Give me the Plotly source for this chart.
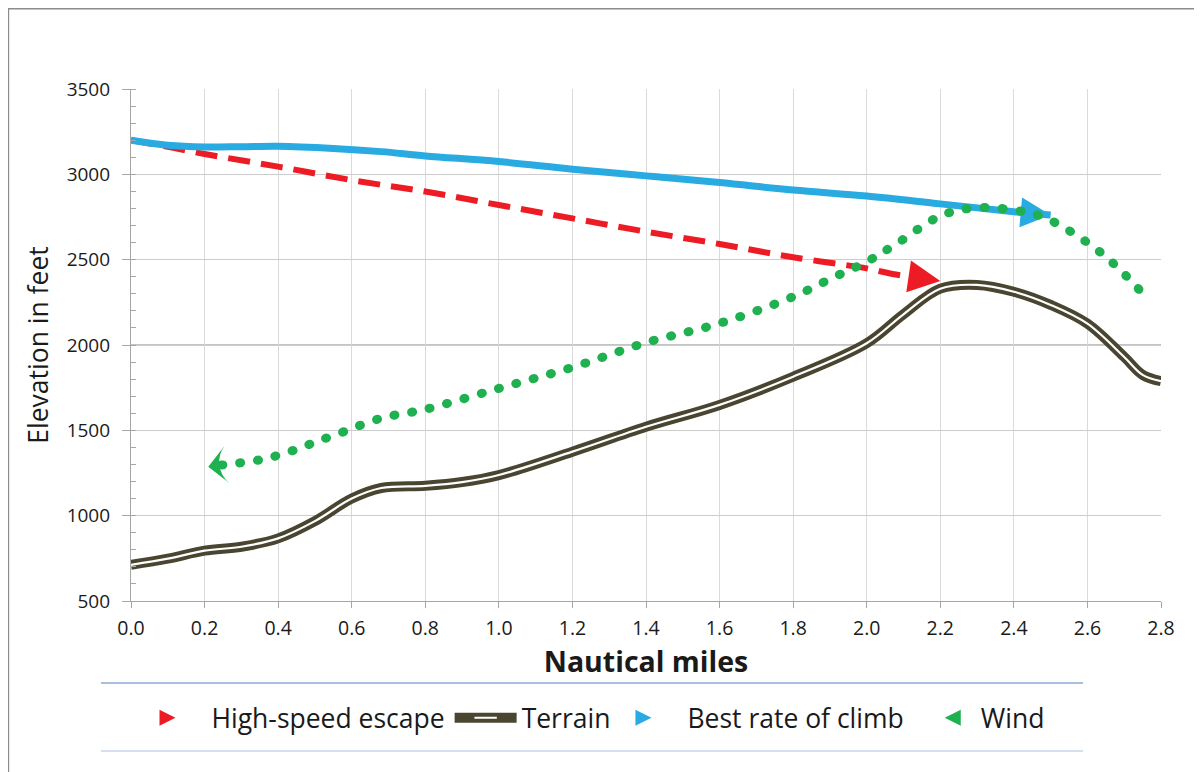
import plotly.graph_objects as go

# ---------------- data ----------------
escape_x = [0.0, 0.1, 0.2, 0.4, 0.6, 0.8, 1.0, 1.2, 1.4, 1.6, 1.8, 2.0, 2.07, 2.2]
escape_y = [3200, 3162, 3119, 3045, 2966, 2899, 2820, 2742, 2664, 2592, 2514, 2449, 2416, 2375]

climb_x = [0.0, 0.1, 0.2, 0.3, 0.4, 0.55, 0.68, 0.8, 1.0, 1.2, 1.4, 1.6, 1.8, 2.0, 2.2, 2.4, 2.5]
climb_y = [3200, 3170, 3160, 3162, 3165, 3152, 3133, 3108, 3075, 3030, 2991, 2952, 2908, 2873, 2827, 2781, 2762]

terrain_x = [0.0, 0.1, 0.2, 0.3, 0.4, 0.5, 0.6, 0.68, 0.8, 0.9, 1.0, 1.2, 1.4, 1.6, 1.8, 2.0, 2.1,
             2.2, 2.3, 2.4, 2.5, 2.6, 2.7, 2.75, 2.8]
terrain_y = [712, 748, 795, 818, 867, 968, 1100, 1162, 1175, 1197, 1238, 1375, 1521, 1649, 1814, 2010, 2180,
             2330, 2352, 2312, 2235, 2125, 1930, 1825, 1788]

wind_x = [0.21, 0.27, 0.32, 0.37, 0.41, 0.46, 0.5, 0.55, 0.68, 0.8, 1.0, 1.2, 1.4, 1.6, 1.8, 1.91,
          2.0, 2.08, 2.2, 2.29, 2.4, 2.48, 2.6, 2.675, 2.74]
wind_y = [1287, 1303, 1316, 1336, 1361, 1396, 1431, 1469, 1571, 1623, 1746, 1869, 2014, 2127, 2283, 2397,
          2488, 2592, 2756, 2803, 2791, 2750, 2600, 2469, 2326]

x_ticks = [0.0, 0.2, 0.4, 0.6, 0.8, 1.0, 1.2, 1.4, 1.6, 1.8, 2.0, 2.2, 2.4, 2.6, 2.8]
y_ticks = [500, 1000, 1500, 2000, 2500, 3000, 3500]

series_names = ["High-speed escape", "Terrain", "Best rate of climb", "Wind"]

# ---------------- style ----------------
RED = "#ed1c24"
BLUE = "#29abe2"
GREEN = "#1fb04f"
TERRAIN = "#4a4530"
FONT = "Open Sans"


def arrow_sizes(n, size):
    return [0] * (n - 1) + [size]


def backoffs(n, b):
    return [0] * (n - 1) + [b]


fig = go.Figure()

# Terrain: dark thick line with a thin white core -> double line
fig.add_trace(go.Scatter(
    x=terrain_x, y=terrain_y, mode="lines", showlegend=False, hoverinfo="skip",
    line=dict(color=TERRAIN, width=10, shape="spline", smoothing=1.0)))
fig.add_trace(go.Scatter(
    x=terrain_x, y=terrain_y, mode="lines", showlegend=False, name=series_names[1],
    line=dict(color="white", width=2.2, shape="spline", smoothing=1.0)))

# High-speed escape (dashed red with arrow head)
n = len(escape_x)
fig.add_trace(go.Scatter(
    x=escape_x, y=escape_y, mode="lines+markers", showlegend=False, name=series_names[0],
    line=dict(color=RED, width=6, dash="22px,11px", shape="spline", backoff=backoffs(n, 14)),
    marker=dict(symbol="arrow-up", size=arrow_sizes(n, 32), color=RED, angleref="previous",
                opacity=1, line=dict(width=0))))

# Best rate of climb (solid blue with arrow head)
n = len(climb_x)
fig.add_trace(go.Scatter(
    x=climb_x, y=climb_y, mode="lines+markers", showlegend=False, name=series_names[2],
    line=dict(color=BLUE, width=7, shape="spline", backoff=backoffs(n, 14)),
    marker=dict(symbol="arrow-up", size=arrow_sizes(n, 30), color=BLUE, angleref="previous",
                opacity=1, line=dict(width=0))))

# Wind (green round-dotted, arrow head at the left end) - drawn from right to left
wx = wind_x[::-1]
wy = wind_y[::-1]
n = len(wx)
fig.add_trace(go.Scatter(
    x=wx, y=wy, mode="lines+markers", showlegend=False, name=series_names[3],
    line=dict(color=GREEN, width=9, dash="1px,17px", shape="spline", backoff=backoffs(n, 10)),
    marker=dict(symbol="arrow-wide", size=arrow_sizes(n, 27), color=GREEN, angleref="previous",
                opacity=1, line=dict(width=0))))

# ---------------- legend-only entries ----------------
fig.add_trace(go.Scatter(x=[None], y=[None], mode="markers", name=series_names[0],
                         marker=dict(symbol="arrow-right", size=16, color=RED)))
fig.add_trace(go.Scatter(x=[None], y=[None], mode="lines+markers", name=series_names[1],
                         line=dict(color=TERRAIN, width=10),
                         marker=dict(symbol="line-ew", size=16, color="white",
                                     line=dict(color="white", width=2))))
fig.add_trace(go.Scatter(x=[None], y=[None], mode="markers", name=series_names[2],
                         marker=dict(symbol="arrow-right", size=16, color=BLUE)))
fig.add_trace(go.Scatter(x=[None], y=[None], mode="markers", name=series_names[3],
                         marker=dict(symbol="arrow-left", size=16, color=GREEN)))

# reference line at 2000 ft (darker grid line in the original)
fig.add_hline(y=2000, line=dict(color="#8a8a8a", width=1.2), layer="below")

# decorative frame and legend separators (paper coordinates)
shapes = [
    dict(type="line", xref="paper", yref="paper", x0=-0.1204, x1=1.05, y0=1.1565, y1=1.1565,
         line=dict(color="#8c8c8c", width=1.5)),
    dict(type="line", xref="paper", yref="paper", x0=-0.1190, x1=-0.1190, y0=1.158, y1=-0.36,
         line=dict(color="#8c8c8c", width=1.5)),
    dict(type="line", xref="paper", yref="paper", x0=-0.0291, x1=0.9243, y0=-0.160, y1=-0.160,
         line=dict(color="#8ea9d8", width=1.5)),
    dict(type="line", xref="paper", yref="paper", x0=-0.0291, x1=0.9243, y0=-0.293, y1=-0.293,
         line=dict(color="#c9d5ee", width=1.5)),
]
for s in shapes:
    fig.add_shape(**s)

fig.update_layout(
    width=1194, height=764,
    margin=dict(l=123, r=41, t=81, b=171),
    paper_bgcolor="white", plot_bgcolor="white",
    font=dict(family=FONT, color="#1a1a1a", size=19),
    showlegend=True,
    legend=dict(orientation="h", x=0.45, xanchor="center", y=-0.2285, yanchor="middle",
                font=dict(family=FONT, size=26.5, color="#1a1a1a"),
                bgcolor="rgba(0,0,0,0)", itemwidth=62, tracegroupgap=0),
    xaxis=dict(
        range=[0, 2.8], tickvals=x_ticks, tickformat=".1f",
        showgrid=True, gridcolor="#dadada", gridwidth=1.2,
        showline=True, linecolor="#a6a6a6", linewidth=1.2,
        ticks="outside", ticklen=6, tickcolor="#a6a6a6",
        tickfont=dict(size=19.5, family=FONT), ticklabelstandoff=3,
        title=dict(text="<b>Nautical miles</b>", font=dict(size=28.5, family=FONT), standoff=12),
        zeroline=False, fixedrange=True,
    ),
    yaxis=dict(
        range=[500, 3500], tickvals=y_ticks,
        showgrid=True, gridcolor="#cccccc", gridwidth=1.2,
        showline=True, linecolor="#a6a6a6", linewidth=1.2,
        ticks="outside", ticklen=8, tickcolor="#a6a6a6",
        tickfont=dict(size=19, family=FONT), ticklabelstandoff=8,
        minor=dict(dtick=100, ticks="inside", ticklen=5, tickcolor="#a6a6a6", showgrid=False),
        title=dict(text="Elevation in feet", font=dict(size=26.5, family=FONT), standoff=10),
        zeroline=False, fixedrange=True,
    ),
)

post = """
var gd = document.getElementById('{plot_id}');
function roundDots() {
  var tr = gd.querySelectorAll('.scatterlayer .trace');
  if (tr.length > 4) {
    var p = tr[4].querySelector('path.js-line');
    if (p) { p.style.strokeLinecap = 'round'; }
  }
}
roundDots();
if (gd.on) { gd.on('plotly_afterplot', roundDots); }
"""

fig.write_html("out.html", post_script=post)
